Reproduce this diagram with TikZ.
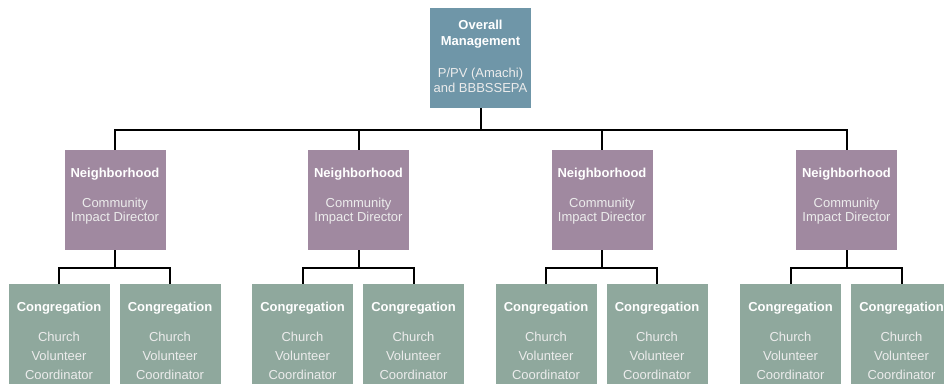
\documentclass[tikz,border=0pt]{standalone}
\usepackage{fontspec}
\setmainfont{Liberation Sans}
\definecolor{topc}{RGB}{111,150,168}
\definecolor{nbc}{RGB}{160,137,160}
\definecolor{cgc}{RGB}{143,168,157}
\definecolor{txt}{RGB}{236,236,236}
\begin{document}
\begin{tikzpicture}[x=1pt,y=-1pt,
  box/.style={draw=none,minimum width=101pt,minimum height=100pt,inner sep=0pt,anchor=north},
  topbox/.style={box,fill=topc},
  nbbox/.style={box,fill=nbc},
  cgbox/.style={box,fill=cgc,minimum height=110pt},
  ttl/.style={font=\fontsize{13}{15}\selectfont\bfseries,text=white,anchor=base,inner sep=0pt},
  tx/.style={font=\fontsize{13}{15}\selectfont,text=txt,anchor=base,inner sep=0pt},
  conn/.style={draw=black,line width=2pt}]
\useasboundingbox (0,0) rectangle (944,383);
\clip (0,0) rectangle (944,383);
% top
\node[topbox] (top) at (480.5,8) {};
\node[ttl] (t1) at ([yshift=-21]top.north) {Overall};
\node[ttl] (t2) at ([yshift=-37]top.north) {Management};
\node[tx] (t3) at ([yshift=-69]top.north) {P/PV (Amachi)};
\node[tx] (t4) at ([yshift=-84]top.north) {and BBBSSEPA};
\foreach \i/\x in {1/115,2/358.5,3/602,4/846.5}{
  \node[nbbox] (n\i) at (\x,150) {};
  \node[ttl] (n\i a) at ([yshift=-27]n\i.north) {Neighborhood};
  \node[tx] (n\i b) at ([yshift=-57]n\i.north) {Community};
  \node[tx] (n\i c) at ([yshift=-71]n\i.north) {Impact Director};
  \draw[conn] (top.south) -- ++(0,22) -| (n\i.north);
  \foreach \j/\dx in {1/-56,2/55}{
    \node[cgbox] (c\i\j) at ([xshift=\dx]n\i.north |- 0,284) {};
    \node[ttl] (c\i\j a) at ([yshift=-27]c\i\j.north) {Congregation};
    \node[tx] (c\i\j b) at ([yshift=-57]c\i\j.north) {Church};
    \node[tx] (c\i\j c) at ([yshift=-76]c\i\j.north) {Volunteer};
    \node[tx] (c\i\j d) at ([yshift=-95]c\i\j.north) {Coordinator};
    \draw[conn] (n\i.south) -- ++(0,17.5) -| (c\i\j.north);
  }
}
\end{tikzpicture}
\end{document}
